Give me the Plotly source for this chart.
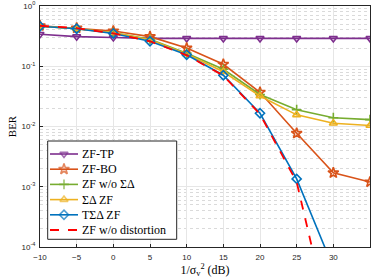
import plotly.graph_objects as go

snr_db = [-10, -5, 0, 5, 10, 15, 20, 25, 30, 35]
zf_tp = [0.34, 0.31, 0.30, 0.29, 0.29, 0.29, 0.29, 0.29, 0.29, 0.29]
zf_bo = [0.47, 0.43, 0.385, 0.31, 0.20, 0.108, 0.037, 0.0077, 0.0017, 0.0012]
zf_no_sd = [0.46, 0.42, 0.36, 0.28, 0.165, 0.089, 0.034, 0.019, 0.014, 0.013]
sd_zf = [0.46, 0.42, 0.36, 0.275, 0.16, 0.081, 0.032, 0.0156, 0.0113, 0.0104]
tsd_zf = [0.46, 0.42, 0.35, 0.26, 0.155, 0.071, 0.0166, 0.00135, 4.5e-5, 1e-6]
zf_nodist = [0.47, 0.43, 0.35, 0.26, 0.152, 0.07, 0.016, 0.0012, 3e-6, 1e-8]

y_tickvals = [1e-4, 1e-3, 1e-2, 1e-1, 1]
y_ticktext = ["10<sup>-4</sup>", "10<sup>-3</sup>", "10<sup>-2</sup>", "10<sup>-1</sup>", "10<sup>0</sup>"]
x_tickvals = [-10, -5, 0, 5, 10, 15, 20, 25, 30, 35]

SERIF = "Liberation Serif, Times New Roman, serif"

series = [
    ("ZF-TP", zf_tp, "#7E2F8E", "triangle-down-open", 7, "solid"),
    ("ZF-BO", zf_bo, "#D95319", "star-open", 8, "solid"),
    ("ZF w/o ΣΔ", zf_no_sd, "#77AC30", "cross-thin-open", 7, "solid"),
    ("ΣΔ ZF", sd_zf, "#EDB120", "triangle-up-open", 7, "solid"),
    ("TΣΔ ZF", tsd_zf, "#0072BD", "diamond-open", 7, "solid"),
    ("ZF w/o distortion", zf_nodist, "#FF0000", None, 0, "dash"),
]

fig = go.Figure()
for name, ys, col, sym, sz, dash in series:
    if sym is None:
        fig.add_trace(go.Scatter(
            x=snr_db, y=ys, name=name, mode="lines", showlegend=False,
            line=dict(color=col, width=1.8, dash="dash"),
        ))
    else:
        fig.add_trace(go.Scatter(
            x=snr_db, y=ys, name=name, mode="lines+markers", showlegend=False,
            line=dict(color=col, width=1.6),
            marker=dict(symbol=sym, size=sz, color=col, line=dict(width=1.6, color=col)),
        ))

# --- custom legend drawn on an overlay subplot whose units are pixels of the plot area ---
PW, PH = 330, 241  # plot area size in px
box_x0, box_x1, box_y0, box_y1 = 7.7, 136.7, 135, 233.3
fig.add_trace(go.Scatter(
    x=[box_x0, box_x1, box_x1, box_x0, box_x0], y=[box_y0, box_y0, box_y1, box_y1, box_y0],
    xaxis="x2", yaxis="y2", mode="lines", fill="toself", fillcolor="white",
    line=dict(color="#262626", width=1), showlegend=False, hoverinfo="skip",
))
row0, row_gap = 148, 15.2
annotations = []
for i, (name, ys, col, sym, sz, dash) in enumerate(series):
    ry = row0 + i * row_gap
    if sym is None:
        fig.add_trace(go.Scatter(
            x=[10, 38], y=[ry, ry], xaxis="x2", yaxis="y2", mode="lines",
            line=dict(color=col, width=1.8, dash="dash"), showlegend=False, hoverinfo="skip",
        ))
    else:
        fig.add_trace(go.Scatter(
            x=[10, 24, 38], y=[ry, ry, ry], xaxis="x2", yaxis="y2", mode="lines+markers",
            line=dict(color=col, width=1.6),
            marker=dict(symbol=sym, size=[0, sz, 0], color=col, line=dict(width=1.6, color=col)),
            showlegend=False, hoverinfo="skip",
        ))
    annotations.append(dict(
        x=39.5, y=ry, xref="x2", yref="y2", text=name, showarrow=False,
        xanchor="left", yanchor="middle",
        font=dict(family=SERIF, size=12, color="black"),
    ))

fig.update_layout(
    width=374, height=280,
    margin=dict(l=40, r=4, t=6, b=33),
    paper_bgcolor="white", plot_bgcolor="white",
    font=dict(family="Liberation Sans, Arial", size=8, color="#262626"),
    showlegend=False,
    annotations=annotations,
    xaxis=dict(
        range=[-10, 35], tickvals=x_tickvals, automargin=False,
        showgrid=True, gridcolor="#e6e6e6", gridwidth=1,
        showline=True, linecolor="#262626", linewidth=1, mirror=True,
        ticks="inside", ticklen=3, tickcolor="#262626",
        zeroline=False, ticklabelstandoff=2,
        title=dict(text="1/σ<sub>v</sub><sup>2</sup> (dB)", standoff=3,
                   font=dict(family=SERIF, size=12, color="black")),
    ),
    yaxis=dict(
        type="log", range=[-4, 0], tickvals=y_tickvals, ticktext=y_ticktext,
        automargin=False,
        showgrid=True, gridcolor="#e6e6e6", gridwidth=1,
        showline=True, linecolor="#262626", linewidth=1, mirror=True,
        ticks="inside", ticklen=3, tickcolor="#262626",
        minor=dict(showgrid=True, gridcolor="#dadada", griddash="dot", dtick="D1", ticks=""),
        zeroline=False, ticklabelstandoff=2,
        title=dict(text="BER", standoff=2, font=dict(family=SERIF, size=11, color="black")),
    ),
    xaxis2=dict(overlaying="x", range=[0, PW], visible=False, fixedrange=True),
    yaxis2=dict(overlaying="y", range=[PH, 0], visible=False, fixedrange=True),
)

fig.write_html("out.html", config={"displayModeBar": False},
               post_script="document.body.style.margin='0';")
